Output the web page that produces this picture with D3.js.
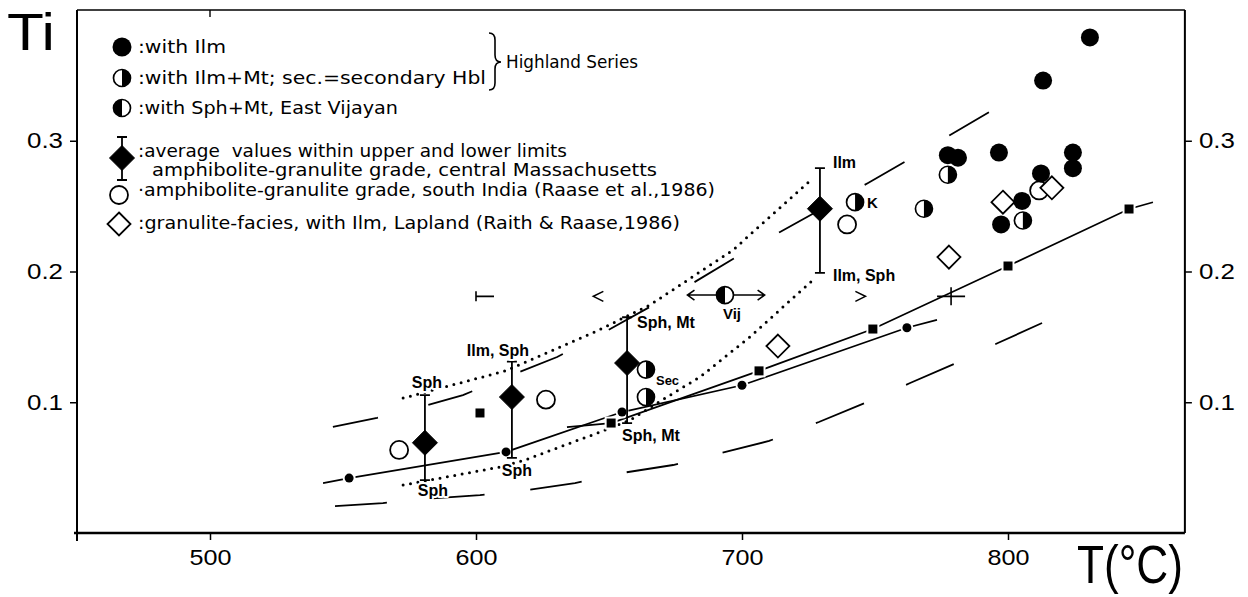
<!DOCTYPE html>
<html><head><meta charset="utf-8">
<script src="https://cdn.jsdelivr.net/npm/d3@7"></script>
<style>
html,body{margin:0;padding:0;background:#fff;}
svg{display:block;}
</style></head><body>
<svg id="chart" width="1248" height="597"></svg>
<script>
// ---- axis ticks ----
const tempTicks = [500, 600, 700, 800];
const tiTicks = [0.1, 0.2, 0.3];

// ---- Highland Series, with Ilm ----
const withIlmT  = [830.8, 813.2, 777.4, 781.2, 796.6, 824.4, 824.4, 812.4, 805.3, 797.4];
const withIlmTi = [0.379, 0.346, 0.289, 0.287, 0.291, 0.291, 0.279, 0.275, 0.254, 0.236];

// ---- Highland Series, with Ilm+Mt (sec. = secondary Hbl) ----
const ilmMtT   = [777.4, 805.6, 768.4, 742.5, 663.9, 663.9];
const ilmMtTi  = [0.274, 0.239, 0.248, 0.253, 0.125, 0.104];
const ilmMtTag = ["", "", "", "K", "Sec", ""];

// ---- with Sph+Mt, East Vijayan (with its temperature range) ----
const vijT = [693.6];
const vijTi = [0.182];
const vijRangeT = [679.5, 708.5];

// ---- amphibolite-granulite grade, south India ----
const indiaT  = [571.1, 626.3, 739.5, 811.7];
const indiaTi = [0.0635, 0.102, 0.236, 0.262];

// ---- granulite facies, Lapland ----
const laplandT  = [713.5, 777.8, 798.1, 816.5];
const laplandTi = [0.143, 0.211, 0.253, 0.264];

// ---- central Massachusetts averages with upper / lower limits ----
const massT  = [580.8, 613.5, 656.8, 729.3];
const massTi = [0.069, 0.104, 0.130, 0.248];
const massHi = [0.1055, 0.131, 0.165, 0.279];
const massLo = [0.0405, 0.0574, 0.084, 0.199];
const massHiLabel = ["Sph", "Ilm, Sph", "Sph, Mt", "Ilm"];
const massLoLabel = ["Sph", "Sph", "Sph, Mt", "Ilm, Sph"];

// ---- zone boundary marks along the Massachusetts traverse ----
const zoneT    = [600, 646, 744.5, 778.6];
const zoneKind = ["bar", "lt", "gt", "cross"];
const zoneTi   = 0.181;

// ---- experimental curves (small dots and squares) ----
const dotT  = [552.3, 611.3, 654.9, 700, 762];
const dotTi = [0.042, 0.062, 0.0925, 0.113, 0.157];
const dotCurveT  = [542.5, 552.3, 611.3, 654.9, 700, 762, 773.3];
const dotCurveTi = [0.0382, 0.042, 0.062, 0.0925, 0.113, 0.157, 0.163];

const squareT  = [601.5, 650.8, 706.4, 749.2, 800, 845.5];
const squareTi = [0.0918, 0.0841, 0.124, 0.156, 0.2042, 0.2478];
const squareCurveT  = [634.2, 650.8, 706.4, 749.2, 800, 845.5, 854.5];
const squareCurveTi = [0.081, 0.0841, 0.124, 0.156, 0.2042, 0.2478, 0.253];

// ---- dashed envelopes ----
const upperDashT  = [546.2, 562.8, 577.8, 595.1, 615.4, 630.5, 647.7, 681.6, 696.6, 714.3, 747.4, 764.3, 778.9, 793.6];
const upperDashTi = [0.0811, 0.088, 0.0956, 0.1055, 0.1224, 0.1346, 0.153, 0.1912, 0.2096, 0.2302, 0.2677, 0.2876, 0.3052, 0.3228];
const lowerDashT  = [547, 565, 580.1, 601.5, 616.5, 637.2, 654.9, 674.1, 692.1, 710.2, 728.9, 746.2, 763.2, 780.5, 796.2, 812.8];
const lowerDashTi = [0.0206, 0.0229, 0.026, 0.029, 0.0321, 0.0382, 0.0459, 0.052, 0.0612, 0.0704, 0.0849, 0.0994, 0.1147, 0.130, 0.1453, 0.1606];

// ---- dotted limits of the Massachusetts data ----
const upperDotT  = [572.6, 610.9, 645.5, 655.3, 665.4, 696.6, 726.3];
const upperDotTi = [0.1032, 0.1239, 0.1545, 0.1644, 0.1744, 0.2164, 0.2707];
const lowerDotT  = [572.6, 609, 618.4, 646.6, 657.9, 671.8, 684.2, 703, 715.4, 726.7];
const lowerDotTi = [0.0367, 0.0505, 0.0558, 0.0772, 0.0864, 0.104, 0.1193, 0.150, 0.1728, 0.1935];

// ---- legend ----
const legendText = [
  ":with Ilm",
  ":with Ilm+Mt; sec.=secondary Hbl",
  ":with Sph+Mt, East Vijayan",
  ":average  values within upper and lower limits",
  "amphibolite-granulite grade, central Massachusetts",
  "\u00b7amphibolite-granulite grade, south India (Raase et al.,1986)",
  ":granulite-facies, with Ilm, Lapland (Raith & Raase,1986)"
];
const bracketText = "Highland Series";

// =====================================================================
const svg = d3.select("#chart");
const x = d3.scaleLinear().domain([500, 800]).range([210, 1008]);
const y = d3.scaleLinear().domain([0, 0.4]).range([533, 10]);
const tMin = 450, tMax = 866.5;
const zip = (a, b) => a.map((v, i) => [v, b[i]]);
const line = d3.line().x(d => x(d[0])).y(d => y(d[1]));

const legendFont = "'DejaVu Sans', sans-serif";
const labelFont = "'Liberation Sans', Arial, sans-serif";

// ---- frame ----
const frame = svg.append("g").attr("stroke", "#000").attr("fill", "none");
frame.append("line").attr("x1", x(tMin)).attr("x2", x(tMin)).attr("y1", y(0.4)).attr("y2", y(0) + 8).attr("stroke-width", 2);
frame.append("line").attr("x1", x(tMin)).attr("x2", x(tMax)).attr("y1", y(0.4)).attr("y2", y(0.4)).attr("stroke-width", 1.6);
frame.append("line").attr("x1", x(tMax)).attr("x2", x(tMax)).attr("y1", y(0.4)).attr("y2", y(0)).attr("stroke-width", 2);
frame.append("line").attr("x1", x(tMin) - 3).attr("x2", x(tMax)).attr("y1", y(0)).attr("y2", y(0)).attr("stroke-width", 2.6);
frame.append("line").attr("x1", x(500)).attr("x2", x(500)).attr("y1", y(0.4)).attr("y2", y(0.4) + 7).attr("stroke-width", 1.4);

// ---- axes ----
function styleAxis(g, len) {
  g.select(".domain").remove();
  g.selectAll(".tick line").attr("stroke", "#000").attr("stroke-width", 1.5);
  g.selectAll(".tick text").attr("fill", "#000")
    .style("font-family", "'Liberation Sans', Arial, sans-serif").style("font-size", "22px")
    .attr("textLength", len).attr("lengthAdjust", "spacingAndGlyphs");
}
svg.append("g").attr("transform", `translate(0,${y(0)})`)
  .call(d3.axisBottom(x).tickValues(tempTicks).tickSize(7).tickPadding(9).tickFormat(d3.format("d")))
  .call(g => styleAxis(g, 42));
svg.append("g").attr("transform", `translate(${x(tMin)},0)`)
  .call(d3.axisLeft(y).tickValues(tiTicks).tickSize(7).tickPadding(7).tickFormat(d3.format(".1f")))
  .call(g => styleAxis(g, 36));
svg.append("g").attr("transform", `translate(${x(tMax)},0)`)
  .call(d3.axisRight(y).tickValues(tiTicks).tickSize(7).tickPadding(7).tickFormat(d3.format(".1f")))
  .call(g => styleAxis(g, 36));

svg.append("text").attr("x", 7).attr("y", 50).text("Ti")
  .style("font-family", "'Liberation Sans', Arial, sans-serif").style("font-size", "52px")
  .attr("textLength", 48).attr("lengthAdjust", "spacingAndGlyphs");
svg.append("text").attr("x", 1077).attr("y", 583).text("T(\u00b0C)")
  .style("font-family", "'Liberation Sans Narrow', 'Liberation Sans', sans-serif").style("font-size", "54px")
  .attr("textLength", 106).attr("lengthAdjust", "spacingAndGlyphs");

// ---- curves ----
const curves = svg.append("g").attr("fill", "none").attr("stroke", "#000");
curves.append("path").attr("d", line(zip(upperDashT, upperDashTi)))
  .attr("stroke-width", 1.8).attr("stroke-dasharray", "46,52");
curves.append("path").attr("d", line(zip(lowerDashT, lowerDashTi)))
  .attr("stroke-width", 1.8).attr("stroke-dasharray", "52,46");
curves.append("path").attr("d", line(zip(dotCurveT, dotCurveTi))).attr("stroke-width", 1.7);
curves.append("path").attr("d", line(zip(squareCurveT, squareCurveTi))).attr("stroke-width", 1.7);
curves.append("path").attr("d", line(zip(upperDotT, upperDotTi)))
  .attr("stroke-width", 3).attr("stroke-linecap", "round").attr("stroke-dasharray", "0,7.5");
curves.append("path").attr("d", line(zip(lowerDotT, lowerDotTi)))
  .attr("stroke-width", 3).attr("stroke-linecap", "round").attr("stroke-dasharray", "0,7.5");

// ---- zone boundary marks ----
const zone = svg.append("g").attr("fill", "none").attr("stroke", "#000").attr("stroke-width", 1.6);
zoneT.forEach((t, i) => {
  const cx = x(t), cy = y(zoneTi);
  const k = zoneKind[i];
  if (k === "bar") {
    zone.append("path").attr("d", `M${cx},${cy - 5}V${cy + 5}M${cx},${cy}H${cx + 18}`);
  } else if (k === "lt") {
    zone.append("path").attr("d", `M${cx + 5},${cy - 5}L${cx - 5},${cy}L${cx + 5},${cy + 5}`);
  } else if (k === "gt") {
    zone.append("path").attr("d", `M${cx - 5},${cy - 5}L${cx + 5},${cy}L${cx - 5},${cy + 5}`);
  } else {
    zone.append("path").attr("d", `M${cx - 14},${cy}H${cx + 14}M${cx},${cy - 9}V${cy + 9}`);
  }
});

// ---- marker helpers ----
function filledCircle(g, cx, cy, r) {
  g.append("circle").attr("cx", cx).attr("cy", cy).attr("r", r).attr("fill", "#000");
}
function halfCircle(g, cx, cy, r, blackSide) {
  g.append("circle").attr("cx", cx).attr("cy", cy).attr("r", r)
    .attr("fill", "#fff").attr("stroke", "#000").attr("stroke-width", 1.7);
  const sweep = blackSide === "right" ? 1 : 0;
  g.append("path").attr("d", `M${cx},${cy - r}A${r},${r} 0 0 ${sweep} ${cx},${cy + r}Z`).attr("fill", "#000");
}
function openCircle(g, cx, cy, r) {
  g.append("circle").attr("cx", cx).attr("cy", cy).attr("r", r)
    .attr("fill", "#fff").attr("stroke", "#000").attr("stroke-width", 1.8);
}
function diamond(g, cx, cy, h, filled) {
  g.append("path").attr("d", `M${cx},${cy - h}L${cx + h},${cy}L${cx},${cy + h}L${cx - h},${cy}Z`)
    .attr("fill", filled ? "#000" : "#fff").attr("stroke", "#000").attr("stroke-width", filled ? 1 : 1.8);
}
function errorBar(g, cx, yTop, yBot) {
  g.append("path").attr("d", `M${cx - 5},${yTop}H${cx + 5}M${cx},${yTop}V${yBot}M${cx - 5},${yBot}H${cx + 5}`)
    .attr("fill", "none").attr("stroke", "#000").attr("stroke-width", 1.8);
}
function haloText(g, tx, ty, str, size, anchor, weight) {
  return g.append("text").attr("x", tx).attr("y", ty).text(str)
    .attr("text-anchor", anchor || "start")
    .style("font-family", labelFont).style("font-size", size + "px").style("font-weight", weight || "bold")
    .attr("fill", "#000").attr("stroke", "#fff").attr("stroke-width", 4)
    .attr("paint-order", "stroke").attr("stroke-linejoin", "round");
}

// ---- experimental points (white ring so the curves stop short) ----
const small = svg.append("g");
dotT.forEach((t, i) => {
  small.append("circle").attr("cx", x(t)).attr("cy", y(dotTi[i])).attr("r", 4.5)
    .attr("fill", "#000").attr("stroke", "#fff").attr("stroke-width", 4).attr("paint-order", "stroke");
});
squareT.forEach((t, i) => {
  small.append("rect").attr("x", x(t) - 4.5).attr("y", y(squareTi[i]) - 4.5).attr("width", 9).attr("height", 9)
    .attr("fill", "#000").attr("stroke", "#fff").attr("stroke-width", 4).attr("paint-order", "stroke");
});

// ---- Massachusetts averages ----
const capLabelPos = [
  { hi: { dx: 2, dy: -7, a: "middle" },  lo: { dx: 8, dy: 16, a: "middle" } },
  { hi: { dx: -14, dy: -6, a: "middle" }, lo: { dx: 5, dy: 18, a: "middle" } },
  { hi: { dx: 10, dy: 11, a: "start" },  lo: { dx: -5, dy: 18, a: "start" } },
  { hi: { dx: 13, dy: 0, a: "start" },   lo: { dx: 13, dy: 8, a: "start" } }
];
const mass = svg.append("g");
massT.forEach((t, i) => {
  errorBar(mass, x(t), y(massHi[i]), y(massLo[i]));
  diamond(mass, x(t), y(massTi[i]), 12.5, true);
});
const labels = svg.append("g");
massT.forEach((t, i) => {
  const p = capLabelPos[i];
  haloText(labels, x(t) + p.hi.dx, y(massHi[i]) + p.hi.dy, massHiLabel[i], 16, p.hi.a);
  haloText(labels, x(t) + p.lo.dx, y(massLo[i]) + p.lo.dy, massLoLabel[i], 16, p.lo.a);
});

// ---- other samples ----
const pts = svg.append("g");
indiaT.forEach((t, i) => openCircle(pts, x(t), y(indiaTi[i]), 9));
laplandT.forEach((t, i) => diamond(pts, x(t), y(laplandTi[i]), 11.5, false));
withIlmT.forEach((t, i) => filledCircle(pts, x(t), y(withIlmTi[i]), 9));
ilmMtT.forEach((t, i) => halfCircle(pts, x(t), y(ilmMtTi[i]), 8.5, "right"));

// East Vijayan with its temperature range arrows
vijT.forEach((t, i) => {
  const cx = x(t), cy = y(vijTi[i]);
  const lx = x(vijRangeT[0]), rx = x(vijRangeT[1]);
  pts.append("path")
    .attr("d", `M${cx - 9},${cy}H${lx}M${lx + 7},${cy - 5}L${lx},${cy}L${lx + 7},${cy + 5}` +
               `M${cx + 9},${cy}H${rx}M${rx - 7},${cy - 5}L${rx},${cy}L${rx - 7},${cy + 5}`)
    .attr("fill", "none").attr("stroke", "#000").attr("stroke-width", 1.6);
  halfCircle(pts, cx, cy, 8.5, "left");
  haloText(labels, cx + 7, cy + 24, "Vij", 15, "middle");
});

// tags next to the Ilm+Mt samples
ilmMtT.forEach((t, i) => {
  const tag = ilmMtTag[i];
  if (tag === "K") haloText(labels, x(t) + 12, y(ilmMtTi[i]) + 6, tag, 15, "start");
  if (tag === "Sec") haloText(labels, x(t) + 10, y(ilmMtTi[i]) + 15, tag, 13, "start");
});

// ---- legend ----
const lg = svg.append("g");
const symX = 122;
filledCircle(lg, symX, 47, 9.5);
halfCircle(lg, symX, 78, 8.5, "right");
halfCircle(lg, symX, 108, 8.5, "left");
errorBar(lg, symX, 137, 180);
diamond(lg, symX, 158, 12.5, true);
openCircle(lg, symX - 3, 195, 9);
diamond(lg, symX - 3, 224, 11.5, false);

const legendRows = [
  { x: 138, y: 53, w: 88 },
  { x: 138, y: 84, w: 348 },
  { x: 138, y: 114, w: 260 },
  { x: 138, y: 157, w: 429 },
  { x: 152, y: 176, w: 505 },
  { x: 138, y: 196, w: 577 },
  { x: 138, y: 229, w: 542 }
];
legendText.forEach((s, i) => {
  const r = legendRows[i];
  lg.append("text").attr("x", r.x).attr("y", r.y).text(s)
    .style("font-family", legendFont).style("font-size", "17px").attr("fill", "#000")
    .attr("textLength", r.w).attr("lengthAdjust", "spacingAndGlyphs")
    .style("white-space", "pre");
});
// brace grouping the first two rows
lg.append("path")
  .attr("d", "M489,33 Q495,33 495,40 L495,55 Q495,62 501,62 Q495,62 495,69 L495,83 Q495,90 489,90")
  .attr("fill", "none").attr("stroke", "#000").attr("stroke-width", 1.6);
lg.append("text").attr("x", 506).attr("y", 68).text(bracketText)
  .style("font-family", legendFont).style("font-size", "17px").attr("fill", "#000")
  .attr("textLength", 132).attr("lengthAdjust", "spacingAndGlyphs");
</script>
</body></html>
